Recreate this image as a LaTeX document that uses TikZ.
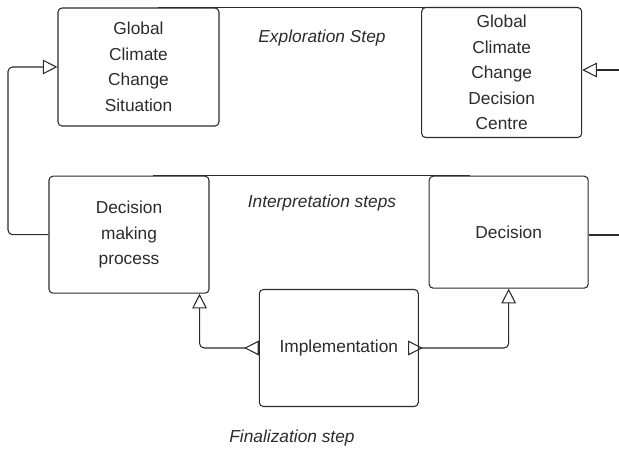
\documentclass[tikz,border=0pt]{standalone}
\usepackage{fontspec}
\setmainfont{Liberation Sans}
\usetikzlibrary{arrows.meta}
\definecolor{ink}{HTML}{2B2B2B}
\begin{document}
\begin{tikzpicture}[x=0.75pt,y=-0.75pt,
  font=\fontsize{13pt}{19.1pt}\selectfont,
  box/.style={draw=ink,line width=0.8pt,rounded corners=3pt,align=center,
    text=ink,inner sep=0pt},
  conn/.style={draw=ink,line width=0.8pt,rounded corners=3.5pt},
  tipend/.tip={Triangle[open,length=11pt,width=11pt]},
  tipback/.tip={Triangle[open,reversed,length=11pt,width=11pt]},
  steplabel/.style={text=ink,font=\fontsize{13pt}{15pt}\selectfont\itshape}]
\useasboundingbox (0,0) rectangle (619,452);

% boxes
\node[box,minimum width=120.75pt,minimum height=88.5pt] (A) at (138.5,67)
  {Global\\Climate\\Change\\Situation};
\node[box,minimum width=120pt,minimum height=97.5pt] (B) at (501.7,72.5)
  {Global\\Climate\\Change\\Decision\\Centre};
\node[box,minimum width=120pt,minimum height=87.75pt] (C) at (129,234.7)
  {Decision\\making\\process};
\node[box,minimum width=119.25pt,minimum height=84pt] (D) at (508.7,232.2)
  {Decision};
\node[box,minimum width=119.25pt,minimum height=87.75pt] (E) at (338.8,348)
  {Implementation};

% step labels
\node[steplabel] (l1) at (322,38) {Exploration Step};
\node[steplabel] (l2) at (322,203) {Interpretation steps};
\node[steplabel] (l3) at (292,438) {Finalization step};

% lines along the box tops
\coordinate (e1) at ([xshift=14.6pt]A.north);
\coordinate (e2) at ([xshift=-16.3pt]B.north);
\draw[conn] (e1) -- (e1 -| e2);
\coordinate (i1) at ([xshift=18pt]C.north);
\coordinate (i2) at ([xshift=-29pt]D.north);
\draw[conn] (i1) -- (i1 -| i2);

% feedback loop from the decision process back to the situation
\coordinate (lx) at (8,0);
\draw[conn,-tipend] (C.west) -- (C.west -| lx) -- (A.west -| lx) -- (A.west);

% connectors leaving the picture on the right
\coordinate (inB) at (619,70);
\draw[conn,-tipend] (inB) -- (inB -| B.east);
\coordinate (outD) at (619,235);
\draw[conn] (outD -| D.east) -- (outD);

% implementation feeding back to both upper boxes
\coordinate (cup) at ([xshift=-7.5pt]C.south east);
\draw[conn,tipback-tipend] (E.west) -| (cup);
\coordinate (er) at ([xshift=-8pt]E.east);
\draw[conn,tipback-tipend] (er) -| (D.south);
\end{tikzpicture}
\end{document}
